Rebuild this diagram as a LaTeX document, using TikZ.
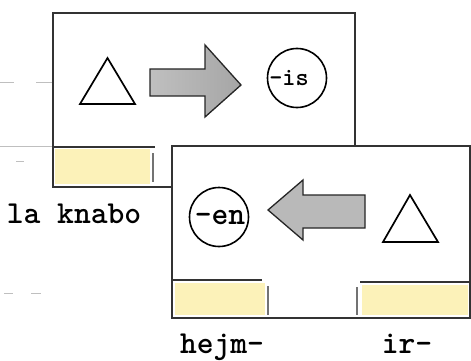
\documentclass[tikz,border=0pt]{standalone}
\definecolor{slotyellow}{RGB}{252,242,185}
\tikzset{
frame/.style={draw=black!80, line width=1.4pt}, % panel borders and slot lines
slot/.style={fill=slotyellow, draw=none}, % the yellow blanks
tick/.style={draw=black!55, line width=1.2pt}, % short end marks of the blanks
stem/.style={draw=black, line width=1.7pt, line join=miter}, % the triangles
blockarrow/.style={draw=black!85, line width=1.3pt, line join=miter},
tag/.style={circle, draw=black, line width=1.6pt, minimum size=59pt, inner sep=0pt},
word/.style={font=\ttfamily\bfseries\fontsize{32}{34}\selectfont, inner sep=0pt},
smudge/.style={draw=black!25, line width=0.8pt}, % faint marks of the scan
}
\begin{document}
\begin{tikzpicture}[x=1pt, y=-1pt]
\useasboundingbox (0,0) rectangle (471,361);
% faint marks on the left
\draw[smudge] (0,82) -- (14,82) (36,82) -- (52,82);
\draw[smudge] (0,146) -- (52,146);
\draw[smudge] (16,161) -- (24,161);
\draw[smudge] (4,293) -- (13,293) (31,293) -- (41,293);
% upper panel
\draw[frame] (53,13) rectangle (355,187);
\fill[slot] (55,149) rectangle (150,184);
\draw[frame] (53,147) -- (155,147);
\draw[tick] (153,153) -- (153,182);
\draw[stem] (80,104) -- (135,104) -- (107.5,58) -- cycle;
\draw[blockarrow, left color=gray!50, middle color=gray!40, right color=gray!70]
  (150,69) -- (205,69) -- (205,45) -- (241,85) -- (205,117) -- (205,96) -- (150,96) -- cycle;
\node[tag] (is) at (297,78) {};
\node[word, font=\ttfamily\bfseries\fontsize{25}{27}\selectfont] at ([xshift=-8]is.center) {-is};
% lower panel
\draw[frame, fill=white] (172,146) rectangle (470,318);
\fill[slot] (175,283) rectangle (265,315);
\draw[frame] (172,280) -- (262,280);
\draw[tick] (268,286) -- (268,315);
\fill[slot] (362,285) rectangle (468,315);
\draw[frame] (360,282) -- (470,282);
\draw[tick] (357,287) -- (357,315);
\node[tag] (en) at (219,217) {};
\node[word] at ([xshift=1]en.center) {-en};
\draw[blockarrow, left color=gray!55, middle color=gray!30, right color=gray!55]
  (365,195) -- (303,195) -- (303,180) -- (268,210) -- (303,240) -- (303,228) -- (365,228) -- cycle;
\draw[stem] (383,242) -- (438,242) -- (410,195) -- cycle;
% labels under the blanks
\node[word, anchor=base] (knabo) at (74,223) {la knabo};
\node[word, anchor=base] (hejm) at (222,353) {hejm-};
\node[word, anchor=base] (ir) at (407,353) {ir-};
\end{tikzpicture}
\end{document}
